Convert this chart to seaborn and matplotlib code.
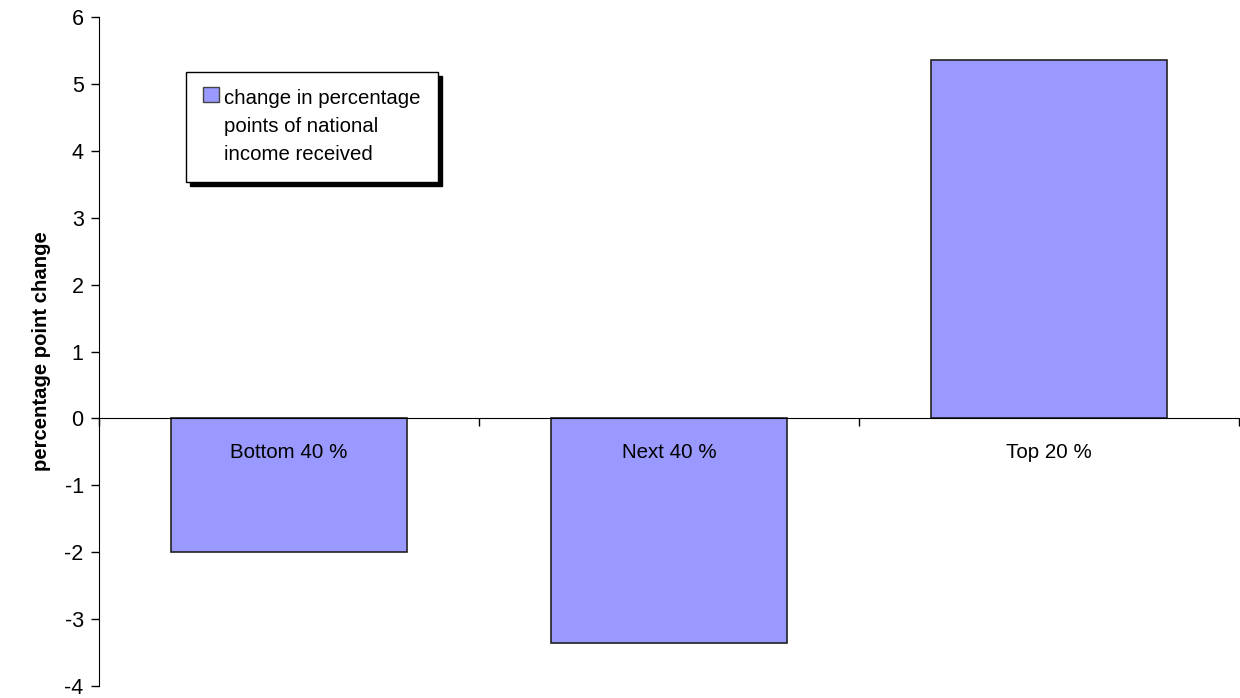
import matplotlib.pyplot as plt
import matplotlib.patches as mpatches
from matplotlib.legend_handler import HandlerPatch
import pandas as pd
import seaborn as sns

# Data
groups = ["Bottom 40 %", "Next 40 %", "Top 20 %"]
change = [-2.0, -3.35, 5.35]
legend_label = "change in percentage\npoints of national\nincome received"

df = pd.DataFrame({"group": groups, "change": change})

sns.set_style("white")
plt.rcParams['font.family'] = ['Liberation Sans', 'DejaVu Sans']
plt.rcParams['axes.unicode_minus'] = False

fig = plt.figure(figsize=(12.4, 6.98), dpi=100)
ax = fig.add_axes([99 / 1240, 1 - 686 / 698, 1140 / 1240, 669 / 698])

sns.barplot(data=df, x="group", y="change", color="#9999FF",
            edgecolor="#222222", linewidth=1.2, width=0.62, saturation=1, ax=ax)

ax.set_xlim(-0.5, 2.5)
ax.set_ylim(-4, 6)
ax.set_yticks(range(-4, 7))
ax.tick_params(axis='y', labelsize=15.5, length=6, width=1, color='black',
               left=True, direction='out', pad=5, labelcolor='black')

# zero line as x axis, tick marks between categories
ax.spines['bottom'].set_position(('data', 0))
ax.spines['bottom'].set_color('black')
ax.spines['left'].set_color('black')
ax.spines['top'].set_visible(False)
ax.spines['right'].set_visible(False)
ax.set_xticks(range(len(groups)))
ax.set_xticklabels([])
ax.tick_params(axis='x', which='major', length=0)
ax.set_xticks([-0.5, 0.5, 1.5, 2.5], minor=True)
ax.tick_params(axis='x', which='minor', length=6, width=1, color='black',
               bottom=True, direction='out')

# category names sit on top of the bars, just under the zero line
for i, name in enumerate(groups):
    ax.annotate(name, xy=(i, 0), xycoords='data', xytext=(0, -24.5),
                textcoords='offset points', ha='center', va='center',
                fontsize=14.8, color='black', zorder=5)

ax.set_xlabel("")
ax.set_ylabel("percentage point change", fontsize=14.6, fontweight='bold',
              labelpad=10, color='black')

LINE_SPACING = 1.6


def top_square(legend, orig_handle, xdescent, ydescent, width, height, fontsize):
    # put the swatch beside the first line of the wrapped label
    side = 0.75 * fontsize
    return mpatches.Rectangle(
        (-xdescent, -ydescent + height / 2 - side / 2 + LINE_SPACING * fontsize),
        side, side)


handle = mpatches.Patch(facecolor="#9999FF", edgecolor="#444444", linewidth=1)
leg = ax.legend([handle], [legend_label], loc='upper left',
                bbox_to_anchor=(186 / 1240, 1 - 72 / 698),
                bbox_transform=fig.transFigure, fontsize=14.7, frameon=True,
                fancybox=False, shadow={'color': 'black', 'alpha': 1, 'ox': 3, 'oy': -3},
                handlelength=0.75, handleheight=0.75, handletextpad=0.25,
                borderpad=0.85, borderaxespad=0,
                handler_map={mpatches.Patch: HandlerPatch(patch_func=top_square)})
leg.get_frame().set_edgecolor('black')
leg.get_frame().set_linewidth(1)
for t in leg.get_texts():
    t.set_linespacing(LINE_SPACING)
    t.set_color('black')

fig.savefig("out.png", dpi=100)
